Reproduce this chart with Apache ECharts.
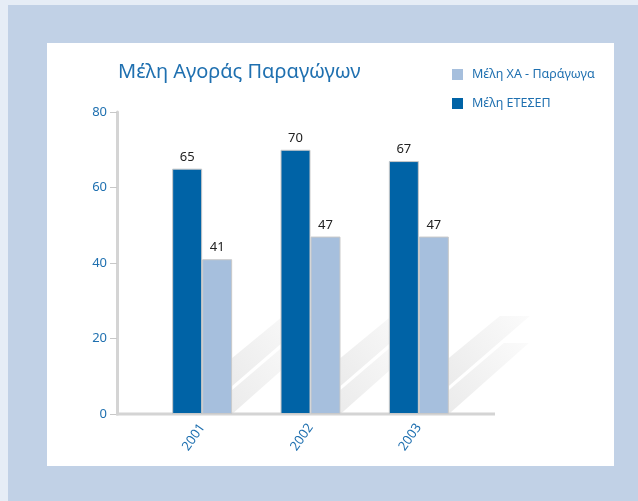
<!DOCTYPE html>
<html>
<head>
<meta charset="utf-8">
<script src="https://cdn.jsdelivr.net/npm/echarts@6/dist/echarts.min.js"></script>
<style>
    html, body { margin: 0; padding: 0; }
    body { width: 638px; height: 501px; background: #e6edf6; position: relative; overflow: hidden; }
    #frame { position: absolute; left: 8px; top: 5px; right: 0; bottom: 0; background: #c1d1e6; }
    #panel { position: absolute; left: 47px; top: 43px; width: 567px; height: 423px; background: #ffffff; }
    #chart { position: absolute; left: 0; top: 0; width: 638px; height: 501px; }
</style>
</head>
<body>
<div id="frame"></div>
<div id="panel"></div>
<div id="chart"></div>
<script>
const categories = ['2001', '2002', '2003']
const etesepValues = [65, 70, 67]
const xaValues = [41, 47, 47]
const yTicks = [0, 20, 40, 60, 80]

const blueText = '#1f70b0'
const font = 'Noto Sans'
const chart = echarts.init(document.getElementById('chart'))

chart.setOption({
    backgroundColor: 'transparent',
    textStyle: { fontFamily: font },
    title: {
        text: 'Μέλη Αγοράς Παραγώγων',
        left: 113,
        top: 57,
        textStyle: { color: blueText, fontSize: 20, fontWeight: 'normal', fontFamily: font }
    },
    legend: {
        orient: 'vertical',
        left: 447,
        top: 63,
        itemWidth: 11,
        itemHeight: 11,
        itemGap: 16,
        icon: 'rect',
        itemStyle: { borderWidth: 0 },
        data: ['Μέλη ΧΑ - Παράγωγα', 'Μέλη ΕΤΕΣΕΠ'],
        textStyle: { color: blueText, fontSize: 12.5, padding: [0, 0, 0, 4] }
    },
    grid: {
        left: 148,
        right: 165,
        top: 112,
        bottom: 87
    },
    xAxis: {
        type: 'category',
        data: categories,
        axisLine: { show: false },
        axisTick: { show: false },
        axisLabel: {
            rotate: 55,
            color: blueText,
            fontSize: 13,
            margin: 11
        }
    },
    yAxis: {
        type: 'value',
        min: yTicks[0],
        max: yTicks[yTicks.length - 1],
        interval: 20,
        offset: 31,
        axisLine: { show: true, lineStyle: { color: '#d4d4d4', width: 3 } },
        axisTick: { show: true, inside: false, length: 7, lineStyle: { color: '#c8c8c8', width: 1 } },
        splitLine: { show: false },
        axisLabel: { color: blueText, fontSize: 13, margin: 10 }
    },
    series: [{
        name: 'Μέλη ΕΤΕΣΕΠ',
        type: 'bar',
        data: etesepValues,
        barWidth: 30,
        barGap: '0%',
        z: 3,
        itemStyle: { color: '#0063a6', borderColor: '#c9c9c9', borderWidth: 1 },
        label: { show: true, position: 'top', color: '#222', fontSize: 13, distance: 5 }
    }, {
        name: 'Μέλη ΧΑ - Παράγωγα',
        type: 'bar',
        data: xaValues,
        barWidth: 30,
        z: 3,
        itemStyle: { color: '#a6bfdd', borderColor: '#c9c9c9', borderWidth: 1 },
        label: { show: true, position: 'top', color: '#222', fontSize: 13, distance: 5 }
    }]
})

// decorative diagonal shadows behind each bar pair, plus the long base line
const yb = chart.convertToPixel({ yAxisIndex: 0 }, 0)
const shade = {
    type: 'linear', x: 0, y: 1, x2: 1, y2: 0,
    colorStops: [{ offset: 0, color: '#ebebeb' }, { offset: 1, color: '#fbfbfb' }]
}
const shapes = []
categories.forEach(function (c, i) {
    const xr = chart.convertToPixel({ xAxisIndex: 0 }, i) + 30
    shapes.push({
        type: 'polygon', z: 1,
        shape: { points: [[xr, yb - 56], [xr + 51, yb - 98], [xr + 81, yb - 98], [xr, yb - 28]] },
        style: { fill: shade }
    })
    shapes.push({
        type: 'polygon', z: 1,
        shape: { points: [[xr, yb - 24], [xr + 55, yb - 71], [xr + 80, yb - 71], [xr, yb]] },
        style: { fill: shade }
    })
})
shapes.push({
    type: 'line', z: 2,
    shape: { x1: 116, y1: yb, x2: 495, y2: yb },
    style: { stroke: '#d4d4d4', lineWidth: 3 }
})
chart.setOption({ graphic: shapes })
</script>
</body>
</html>
